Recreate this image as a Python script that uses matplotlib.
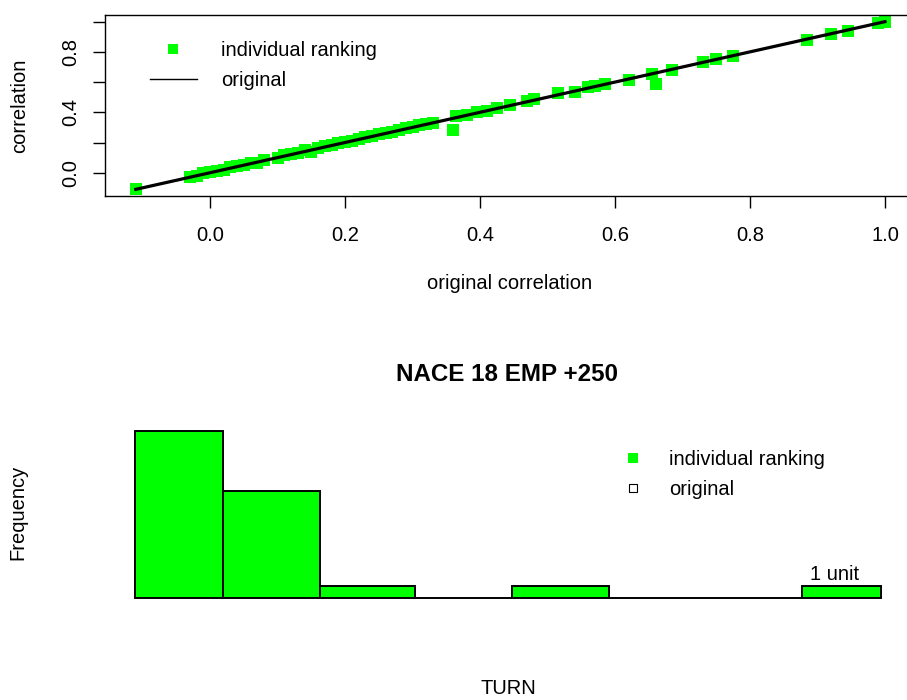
import numpy as np
import matplotlib.pyplot as plt
from matplotlib.lines import Line2D

plt.rcParams['font.family'] = ['Liberation Sans', 'DejaVu Sans']

# top panel: original vs individual-ranking correlations
orig_corr = [-0.11, -0.03, -0.02, -0.01, 0.00, 0.01, 0.02, 0.03, 0.04, 0.05,
             0.06, 0.07, 0.08, 0.10, 0.11, 0.12, 0.13, 0.14, 0.15, 0.16,
             0.17, 0.18, 0.19, 0.20, 0.21, 0.22, 0.23, 0.24, 0.25, 0.26,
             0.27, 0.28, 0.29, 0.30, 0.31, 0.32, 0.33, 0.36, 0.365, 0.38,
             0.395, 0.41, 0.425, 0.445, 0.47, 0.48, 0.515, 0.54, 0.56, 0.57,
             0.585, 0.62, 0.655, 0.66, 0.685, 0.73, 0.75, 0.775, 0.885, 0.92,
             0.945, 0.99, 1.00]
indiv_corr = [-0.11, -0.025, -0.02, -0.005, 0.005, 0.01, 0.02, 0.035, 0.045, 0.05,
              0.065, 0.065, 0.085, 0.10, 0.115, 0.125, 0.13, 0.15, 0.14, 0.165,
              0.175, 0.185, 0.195, 0.205, 0.21, 0.225, 0.235, 0.24, 0.255, 0.26,
              0.27, 0.285, 0.295, 0.30, 0.315, 0.325, 0.33, 0.28, 0.375, 0.385,
              0.40, 0.41, 0.43, 0.445, 0.475, 0.49, 0.53, 0.535, 0.565, 0.575,
              0.585, 0.615, 0.655, 0.59, 0.68, 0.735, 0.75, 0.775, 0.88, 0.92,
              0.935, 0.99, 1.00]
x_ticks = [0.0, 0.2, 0.4, 0.6, 0.8, 1.0]
x_tick_labels = ['0.0', '0.2', '0.4', '0.6', '0.8', '1.0']
y_ticks = [0.0, 0.2, 0.4, 0.6, 0.8, 1.0]
y_tick_labels = ['0.0', '', '0.4', '', '0.8', '']

# bottom panel: histogram of TURN
turn_breaks = [0.0, 0.91, 1.91, 2.9, 3.9, 4.91, 5.9, 6.9, 7.72]
turn_counts = [14, 9, 1, 0, 1, 0, 0, 1]

GREEN = '#00ff00'
FS = 14.5
W, H = 907, 700

fig = plt.figure(figsize=(W / 100, H / 100), dpi=100)


def fx(px):
    return px / W


def fy(py):
    return 1 - py / H


# ---- top panel
ax1 = fig.add_axes([fx(105), fy(196), fx(914.7) - fx(105), fy(15.3) - fy(196)])
ax1.plot(orig_corr, indiv_corr, 's', color=GREEN, markersize=8.8,
         markeredgewidth=0, zorder=2)
ax1.plot(sorted(orig_corr), sorted(orig_corr), color='black', lw=2.3, zorder=3)
ax1.set_xlim(-0.1556, 1.044)
ax1.set_ylim(-0.154, 1.042)
ax1.set_xticks(x_ticks)
ax1.set_xticklabels(x_tick_labels)
ax1.set_yticks(y_ticks)
ax1.set_yticklabels(y_tick_labels, rotation=90, va='center')
ax1.tick_params(axis='both', length=8.8, width=1.0, labelsize=FS)
ax1.tick_params(axis='x', pad=12.5)
ax1.tick_params(axis='y', pad=9)
for s in ax1.spines.values():
    s.set_linewidth(1.0)

h1 = [Line2D([], [], marker='s', color=GREEN, ls='none', markersize=6.5,
             markeredgewidth=0),
      Line2D([], [], color='black', lw=1.0)]
ax1.legend(h1, ['individual ranking', 'original'], loc='center left',
           bbox_to_anchor=(fx(150), fy(65.5)), bbox_transform=fig.transFigure,
           frameon=False, fontsize=FS, handlelength=2.33, handletextpad=1.2,
           borderpad=0, borderaxespad=0, labelspacing=0.56)

fig.text(fx(510), fy(289), 'original correlation', ha='center', va='baseline',
         fontsize=FS)
fig.text(fx(20), fy(105.5), 'correlation', ha='center', va='center',
         rotation=90, fontsize=FS)

# ---- bottom panel
ax2 = fig.add_axes([fx(105), fy(605), fx(914.7) - fx(105), fy(420) - fy(605)])
ax2.bar(turn_breaks[:-1], turn_counts, width=np.diff(turn_breaks), align='edge',
        color=GREEN, edgecolor='black', linewidth=1.4)
ax2.set_xlim(-0.31, 8.07)
ax2.set_ylim(-0.587, 14.92)
ax2.axis('off')
ax2.text((turn_breaks[-2] + turn_breaks[-1]) / 2 - 0.07, 1.2, '1 unit',
         ha='center', va='bottom', fontsize=FS)

h2 = [Line2D([], [], marker='s', color=GREEN, ls='none', markersize=6.5,
             markeredgewidth=0),
      Line2D([], [], marker='s', color='white', markeredgecolor='black', ls='none',
             markersize=5.8, markeredgewidth=0.8)]
ax2.legend(h2, ['individual ranking', 'original'], loc='center left',
           bbox_to_anchor=(fx(609.5), fy(474.5)), bbox_transform=fig.transFigure,
           frameon=False, fontsize=FS, handlelength=2.33, handletextpad=0.62,
           borderpad=0, borderaxespad=0, labelspacing=0.56)

fig.text(fx(507), fy(381), 'NACE 18 EMP +250', ha='center', va='baseline',
         fontsize=FS * 1.2, fontweight='bold')
fig.text(fx(18), fy(512.5), 'Frequency', ha='center', va='center',
         rotation=90, fontsize=FS)
fig.text(fx(508), fy(694), 'TURN', ha='center', va='baseline', fontsize=FS)

fig.savefig('out.png', dpi=100)
